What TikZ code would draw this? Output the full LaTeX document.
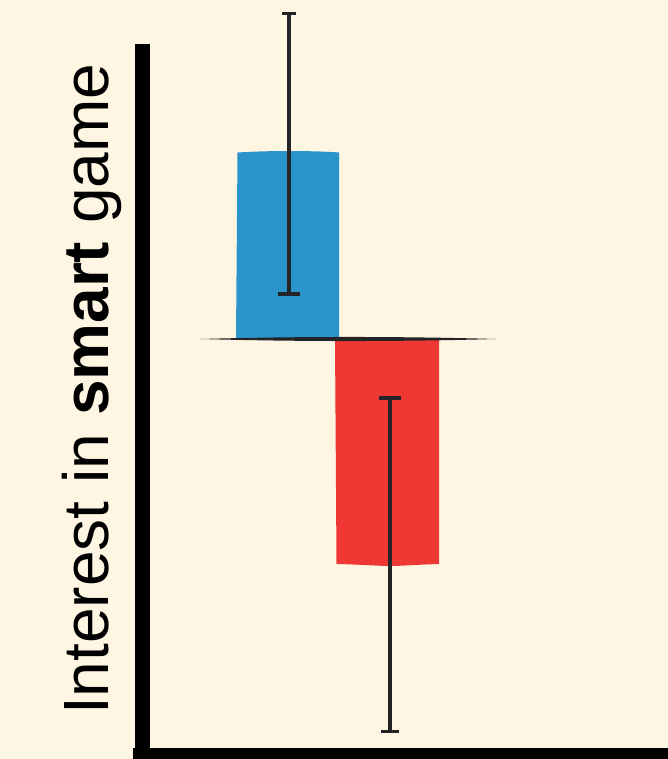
\documentclass[tikz,border=0pt]{standalone}
\usepackage{fontspec}
\setmainfont{Liberation Sans}
\definecolor{bg}{HTML}{FEF5E3}
\definecolor{barblue}{HTML}{2B95CB}
\definecolor{barred}{HTML}{EF3834}
\definecolor{errc}{HTML}{232328}
\begin{document}
\begin{tikzpicture}[x=1pt,y=-1pt,
  errline/.style={draw=errc,line width=3.5pt},
  errcap/.style={draw=errc,line width=3pt}]
\fill[bg] (0,0) rectangle (668,759);
\useasboundingbox (0,0) rectangle (668,759);
% axes
\fill[black] (135,44) rectangle (150,759);
\fill[black] (133,748) rectangle (668,759);
% bars
\fill[barblue] (236,338) -- (237.5,152.5) .. controls (270,150.5) and (310,150.5) .. (339,152.5) -- (339,338) -- cycle;
\fill[barred] (335,340) -- (439,340) -- (439,564) .. controls (420,564.5) and (400,566) .. (390,566) .. controls (380,566) and (360,564.5) .. (336.5,564) -- cycle;
% zero line
\fill[errc] (200,339) .. controls (300,336.3) and (400,336.3) .. (496,339) .. controls (400,341.7) and (300,341.7) .. (200,339) -- cycle;
% error bars
\coordinate (bt) at (289,13.5);
\coordinate (bb) at (289,294);
\coordinate (rt) at (390,398);
\coordinate (rb) at (390,731);
\draw[errline] (bt) -- (bb);
\draw[errline] (rt) -- (rb);
\draw[errcap,line width=2.5pt] ([xshift=-7pt]bt) -- ([xshift=7pt]bt);
\draw[errcap,line width=3.5pt] ([xshift=-11pt]bb) -- ([xshift=11pt]bb);
\draw[errcap,line width=3.5pt] ([xshift=-11pt]rt) -- ([xshift=11pt]rt);
\draw[errcap] ([xshift=-9pt]rb) -- ([xshift=9pt]rb);
% label
\node[rotate=90,anchor=base west,inner sep=0pt,font=\fontsize{64}{68}\selectfont] (lab) at (108,715) {Interest in \textbf{smart} game};
\end{tikzpicture}
\end{document}
